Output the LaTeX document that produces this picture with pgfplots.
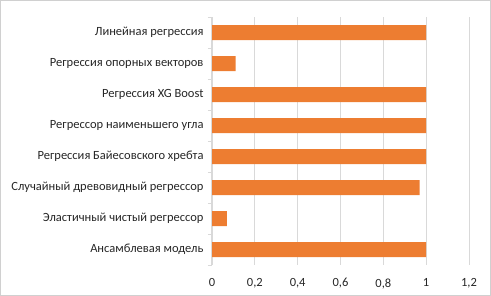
\documentclass[border=0pt]{standalone}
\usepackage{fontspec}
\setmainfont{Carlito}
\usepackage{pgfplots}
\pgfplotsset{compat=1.18}
\definecolor{barorange}{HTML}{ED7D31}
\definecolor{gridgray}{HTML}{D9D9D9}
\definecolor{framegray}{HTML}{D0D0D0}
\begin{document}
\begin{tikzpicture}
\draw[framegray, line width=1pt] (0.5pt,-0.5pt) rectangle (490.5pt,-295.5pt);
\begin{axis}[
  at={(212pt,-265pt)}, anchor=south west,
  scale only axis, width=257pt, height=248pt,
  xmin=0, xmax=1.2,
  ymin=-0.5, ymax=7.5,
  y dir=reverse,
  xtick={0,0.2,0.4,0.6,0.8,1,1.2},
  xticklabels={0,{0,2},{0,4},{0,6},{0,8},1,{1,2}},
  ytick={0,...,7},
  yticklabels={Линейная регрессия,Регрессия опорных векторов,Регрессия XG Boost,Регрессор наименьшего угла,Регрессия Байесовского хребта,Случайный древовидный регрессор,Эластичный чистый регрессор,Ансамблевая модель},
  minor ytick={-0.5,0.5,...,7.5},
  ytick pos=left, xtick pos=bottom,
  major tick length=0pt,
  minor tick length=4pt,
  tick align=outside,
  every minor tick/.style={gridgray, thick},
  axis line style={draw=none},
  xmajorgrids,
  grid style={gridgray, line width=0.8pt},
  ticklabel style={font=\fontsize{12.5}{14}\selectfont, text=black!85},
  yticklabel style={xshift=-5pt},
  xticklabel style={yshift=-10pt},
  /pgf/number format/assume math mode=true,
  xbar, bar width=15pt,
  clip=false,
]
\addplot[fill=barorange, draw=none, bar shift=0pt] coordinates {
(1,0) (0.11,1) (1,2) (1,3) (1,4) (0.97,5) (0.07,6) (1,7)};
\draw[gridgray, line width=1pt] (axis cs:0,-0.5) -- (axis cs:0,7.5);
\end{axis}
\end{tikzpicture}
\end{document}
